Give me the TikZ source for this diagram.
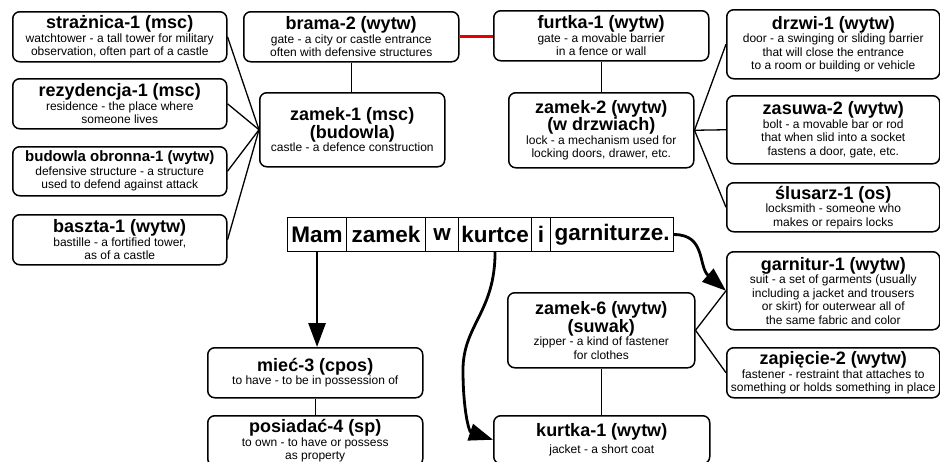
\documentclass[tikz,border=0pt]{standalone}
\usepackage{fontspec}
\setmainfont{Liberation Sans}
\usetikzlibrary{arrows.meta}
\definecolor{linkred}{RGB}{230, 0, 0}
\newcommand{\hd}[1]{{\fontsize{18}{20}\selectfont\bfseries #1}}
\newcommand{\hdsmall}[1]{{\fontsize{15}{17}\selectfont\bfseries #1}}
\tikzset{
  sense/.style={draw, line width=1.5pt, rounded corners=7pt, anchor=north west,
    align=center, inner sep=1pt, font=\fontsize{12}{13.5}\selectfont},
  word/.style={draw, line width=1.1pt, anchor=north west, minimum height=34pt,
    inner sep=0pt, font=\fontsize{22.5}{26}\selectfont\bfseries},
  link/.style={line width=1.3pt},
  pointer/.style={line width=2.8pt, -{Triangle[length=24pt,width=17pt]}}
}

\begin{document}
\begin{tikzpicture}[x=1pt,y=-1pt]
\useasboundingbox (0,0) rectangle (940,461);
\clip (0,0) rectangle (940,461);

% castle senses
\node[sense, minimum width=214pt, minimum height=50pt] (straz) at (12,11)
  {\hd{strażnica-1 (msc)}\\watchtower - a tall tower for military\\observation, often part of a castle};
\node[sense, minimum width=214pt, minimum height=50pt] (rezy) at (12,78)
  {\hd{rezydencja-1 (msc)}\\residence - the place where\\someone lives};
\node[sense, minimum width=214pt, minimum height=49pt] (obron) at (12,146)
  {\hdsmall{budowla obronna-1 (wytw)}\\defensive structure - a structure\\used to defend against attack};
\node[sense, minimum width=214pt, minimum height=50pt] (baszta) at (12,214)
  {\hd{baszta-1 (wytw)}\\bastille - a fortified tower,\\as of a castle};
\node[sense, minimum width=215pt, minimum height=50pt] (brama) at (243,11)
  {\hd{brama-2 (wytw)}\\gate - a city or castle entrance\\often with defensive structures};
\node[sense, minimum width=185pt, minimum height=74pt] (zam1) at (259,92)
  {\hd{zamek-1 (msc)}\\\hd{(budowla)}\\castle - a defence construction};

% lock senses
\node[sense, minimum width=215pt, minimum height=50pt] (furtka) at (493,10)
  {\hd{furtka-1 (wytw)}\\gate - a movable barrier\\in a fence or wall};
\node[sense, minimum width=185pt, minimum height=75pt] (zam2) at (508,92)
  {\hd{zamek-2 (wytw)}\\\hd{(w drzwiach)}\\lock - a mechanism used for\\locking doors, drawer, etc.};
\node[sense, minimum width=213pt, minimum height=69pt] (drzwi) at (726,9)
  {\hd{drzwi-1 (wytw)}\\door - a swinging or sliding barrier\\that will close the entrance\\to a room or building or vehicle};
\node[sense, minimum width=213pt, minimum height=68pt] (zasuwa) at (726,95)
  {\hd{zasuwa-2 (wytw)}\\bolt - a movable bar or rod\\that when slid into a socket\\fastens a door, gate, etc.};
\node[sense, minimum width=213pt, minimum height=49pt] (slusarz) at (726,182)
  {\hd{ślusarz-1 (os)}\\locksmith - someone who\\makes or repairs locks};

% zipper senses
\node[sense, minimum width=213pt, minimum height=78pt] (garnitur) at (726,251)
  {\hd{garnitur-1 (wytw)}\\suit - a set of garments (usually\\including a jacket and trousers\\or skirt) for outerwear all of\\the same fabric and color};
\node[sense, minimum width=213pt, minimum height=50pt] (zapiecie) at (726,347)
  {\hd{zapięcie-2 (wytw)}\\fastener - restraint that attaches to\\something or holds something in place};
\node[sense, minimum width=187pt, minimum height=75pt] (zam6) at (507,292)
  {\hd{zamek-6 (wytw)}\\\hd{(suwak)}\\zipper - a kind of fastener\\for clothes};
\node[sense, minimum width=216pt, minimum height=48pt] (kurtka) at (493,415)
  {\hd{kurtka-1 (wytw)}\\[4pt]jacket - a short coat};

% verb senses
\node[sense, minimum width=215pt, minimum height=50pt] (miec) at (207,347)
  {\hd{mieć-3 (cpos)}\\to have - to be in possession of};
\node[sense, minimum width=215pt, minimum height=50pt] (posiadac) at (207,415)
  {\hd{posiadać-4 (sp)}\\to own - to have or possess\\as property};

% sentence
\node[word, minimum width=59pt] (wmam) at (287,217) {Mam};
\node[word, minimum width=79pt] (wzamek) at (346,217) {zamek};
\node[word, minimum width=33pt] (ww) at (425,217) {w};
\node[word, minimum width=73pt] (wkurtce) at (458,217) {kurtce};
\node[word, minimum width=19pt] (wi) at (531,217) {i};
\node[word, minimum width=123pt] (wgarn) at (550,217) {garniturze.};

% relations
\foreach \n in {straz,rezy,obron,baszta}
  \draw[link] (\n.east) -- (zam1.west);
\draw[link] (brama.south) -- (brama.south |- zam1.north);
\draw[linkred, line width=2.6pt] (brama.east) -- (brama.east -| furtka.west);
\draw[link] (furtka.south) -- (furtka.south |- zam2.north);
\foreach \n in {drzwi,zasuwa,slusarz}
  \draw[link] (zam2.east) -- (\n.west);
\foreach \n in {garnitur,zapiecie}
  \draw[link] (zam6.east) -- (\n.west);
\draw[link] (zam6.south) -- (zam6.south |- kurtka.north);
\draw[link] (miec.south) -- (miec.south |- posiadac.north);

% word to sense
\coordinate (bend) at (463,370);
\draw[pointer] (wkurtce.south) .. controls +(0,60) and +(0,-45) .. (bend)
  .. controls +(0,40) and +(-24,-8) .. (kurtka.west);
\draw[pointer] (wmam.south) -- (wmam.south |- miec.north);
\draw[pointer] (wgarn.east) .. controls +(32,0) and +(-28,-24) .. (garnitur.west);
\end{tikzpicture}
\end{document}
